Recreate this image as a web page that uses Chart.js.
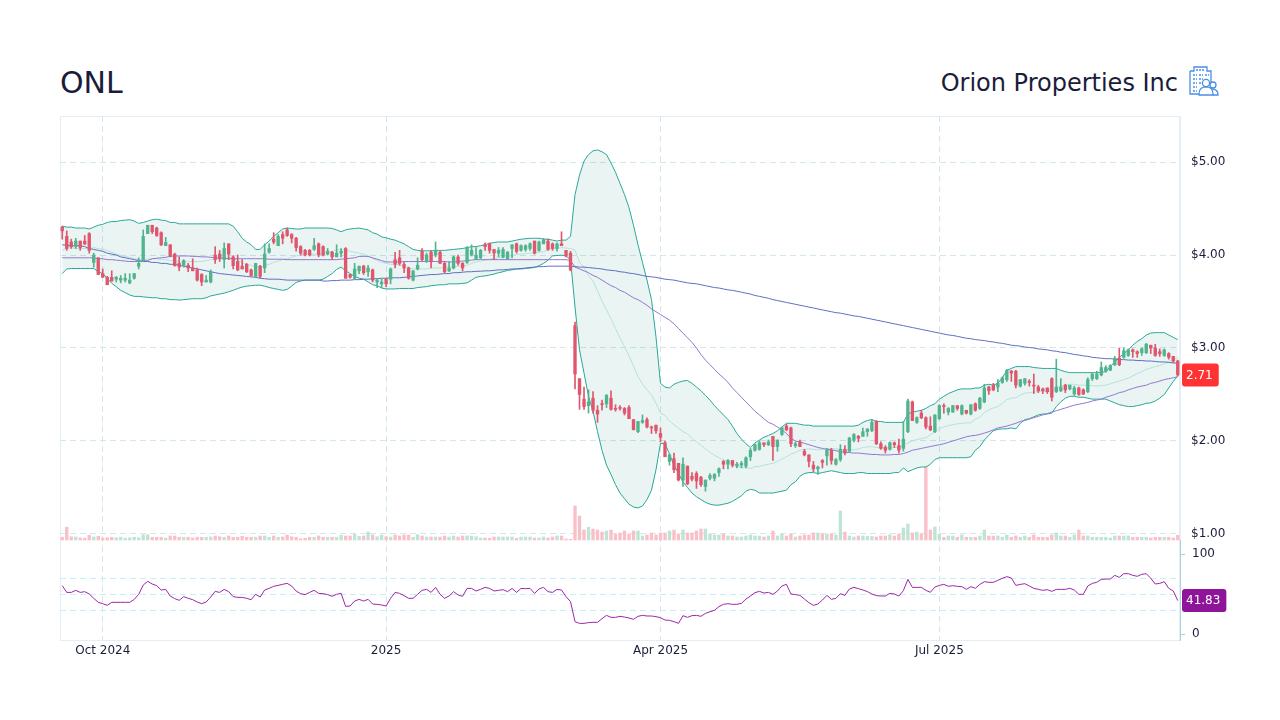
<!DOCTYPE html>
<html>
<head>
<meta charset="utf-8">
<title>ONL</title>
<script src="https://cdn.jsdelivr.net/npm/chart.js@4"></script>
<style>
  html, body { margin: 0; padding: 0; background: #fff; }
  body { width: 1280px; height: 720px; position: relative; overflow: hidden; font-family: "DejaVu Sans", sans-serif; color: #1a1d3a; }
  canvas { position: absolute; left: 0; top: 0; }
  #ticker { position: absolute; left: 60px; top: 65px; font-size: 30px; line-height: 36px; }
  #company { position: absolute; right: 102px; top: 68px; font-size: 24px; line-height: 30px; white-space: nowrap; }
  #logo { position: absolute; left: 1188px; top: 65px; }
</style>
</head>
<body>
<div id="ticker">ONL</div>
<div id="company">Orion Properties Inc</div>
<svg id="logo" width="32" height="32" viewBox="0 0 32 32" fill="none" stroke="#4a8fe6" stroke-width="1.3">
  <path d="M2 6h4V2h13v4h4v14M2 6v23h14"/>
  <path d="M5 10h4M11 10h4M17 10h4M5 14h4M11 14h4M5 18h4M11 18h4M5 22h4M5 26h4M8 5h8" stroke-dasharray="2 1"/>
  <circle cx="18" cy="18" r="3.6" fill="#fff"/>
  <path d="M11 30c0-6 2-7 5-8h4c3 1 5 2 5 8z" fill="#fff"/>
  <circle cx="25" cy="20" r="3" fill="#fff"/>
  <path d="M24 24c4 0 6 2 6 6h-5"/>
</svg>
<canvas id="chart" width="1280" height="720"></canvas>
<script>
// daily bars
const opens = [
  4.30,4.20,4.14,4.09,4.15,4.15,4.23,3.92,3.97,3.80,
  3.76,3.76,3.74,3.73,3.73,3.70,3.75,3.88,3.94,4.23,
  4.32,4.29,4.24,4.10,4.11,4.01,3.91,3.89,3.89,3.86,
  3.84,3.79,3.71,3.71,4.00,4.01,3.95,4.12,3.98,3.93,
  3.88,3.90,3.84,3.77,3.88,3.86,4.03,4.17,4.10,4.22,
  4.27,4.22,4.18,4.09,4.05,4.05,4.06,4.12,4.09,4.01,
  4.03,3.98,4.02,4.07,3.79,3.75,3.83,3.88,3.82,3.84,
  3.71,3.69,3.74,3.74,3.95,3.97,3.90,3.86,3.73,3.85,
  4.04,3.93,4.03,4.00,4.03,3.91,3.83,3.86,3.98,3.91,
  3.92,4.00,3.95,3.97,4.11,4.12,4.06,4.02,3.98,3.96,
  4.07,4.12,4.05,4.06,4.07,4.15,4.05,4.12,4.15,4.12,
  4.07,4.12,4.05,4.02,3.24,2.67,2.45,2.38,2.46,2.33,
  2.40,2.40,2.46,2.35,2.36,2.35,2.36,2.23,2.10,2.20,
  2.23,2.15,2.17,2.08,1.98,1.78,1.81,1.76,1.58,1.73,
  1.62,1.65,1.61,1.51,1.60,1.60,1.66,1.78,1.75,1.79,
  1.73,1.74,1.73,1.83,1.90,1.91,1.98,1.96,2.05,1.94,
  2.07,2.16,2.14,1.95,1.99,1.89,1.85,1.74,1.70,1.79,
  1.84,1.90,1.75,1.80,1.91,1.89,2.01,2.05,2.05,2.10,
  2.11,2.21,1.97,1.93,1.91,1.98,1.95,1.92,2.10,2.42,
  2.20,2.30,2.25,2.16,2.10,2.24,2.38,2.31,2.31,2.38,
  2.29,2.33,2.29,2.40,2.35,2.42,2.58,2.60,2.58,2.63,
  2.66,2.75,2.75,2.59,2.62,2.64,2.60,2.58,2.56,2.57,
  2.67,2.53,2.54,2.60,2.56,2.505,2.57,2.55,2.53,2.67,
  2.67,2.71,2.75,2.76,2.82,2.89,2.90,2.92,2.98,2.96,
  2.95,2.95,3.03,3.00,2.96,2.92,2.94,2.91,2.86
];
const closes = [
  4.26,4.07,4.09,4.15,4.08,4.12,4.05,4.00,3.79,3.76,
  3.68,3.72,3.76,3.75,3.75,3.73,3.80,3.91,4.20,4.32,
  4.25,4.21,4.11,4.135,3.99,3.885,3.87,3.94,3.86,3.83,
  3.73,3.71,3.73,3.82,3.95,3.96,4.07,4.01,3.885,3.84,
  3.85,3.82,3.78,3.91,3.77,4.01,4.07,4.14,4.20,4.18,
  4.21,4.18,4.08,4.02,4.00,4.00,4.10,4.00,4.00,4.04,
  3.98,4.02,4.04,3.75,3.76,3.85,3.88,3.81,3.86,3.73,
  3.73,3.71,3.69,3.85,3.90,3.91,3.86,3.75,3.83,3.89,
  3.95,4.00,3.93,4.05,3.91,3.82,3.86,3.98,3.91,3.86,
  4.08,4.05,4.00,4.05,4.09,4.05,4.02,4.05,4.06,4.03,
  4.11,4.04,4.10,4.10,4.12,4.02,4.14,4.16,4.06,4.07,
  4.12,4.10,3.99,3.84,2.72,2.50,2.37,2.42,2.33,2.29,
  2.39,2.49,2.34,2.34,2.35,2.30,2.24,2.12,2.21,2.22,
  2.15,2.14,2.11,2.04,1.83,1.85,1.69,1.58,1.75,1.54,
  1.59,1.57,1.53,1.58,1.63,1.64,1.70,1.75,1.79,1.74,
  1.75,1.76,1.82,1.90,1.96,1.98,1.96,1.99,1.94,2.01,
  2.14,2.12,1.97,1.97,1.94,1.85,1.78,1.70,1.72,1.77,
  1.90,1.79,1.80,1.91,1.87,2.03,2.07,2.03,2.10,2.13,
  2.20,1.97,1.92,1.90,1.98,1.96,1.90,2.02,2.43,2.22,
  2.25,2.25,2.15,2.12,2.28,2.38,2.37,2.35,2.38,2.35,
  2.38,2.30,2.39,2.33,2.46,2.57,2.54,2.55,2.62,2.68,
  2.76,2.73,2.60,2.66,2.67,2.63,2.59,2.54,2.54,2.53,
  2.47,2.58,2.58,2.55,2.60,2.57,2.50,2.505,2.66,2.72,
  2.72,2.79,2.79,2.81,2.89,2.82,2.97,2.98,2.96,2.94,
  2.99,3.04,3.00,2.92,2.94,2.98,2.90,2.86,2.71
];
const highs = [
  4.31,4.26,4.17,4.18,4.15,4.21,4.24,4.02,3.97,3.85,
  3.77,3.83,3.77,3.78,3.80,3.80,3.80,3.97,4.27,4.32,
  4.32,4.30,4.25,4.19,4.11,4.02,3.98,3.95,3.91,3.96,
  3.86,3.80,3.78,3.84,4.09,4.05,4.13,4.12,3.99,4.00,
  3.95,3.91,3.85,3.91,3.89,4.12,4.12,4.24,4.22,4.25,
  4.29,4.23,4.19,4.10,4.06,4.06,4.18,4.13,4.10,4.07,
  4.04,4.11,4.07,4.08,3.79,3.91,3.88,3.89,3.89,3.85,
  3.74,3.74,3.75,3.86,4.03,4.05,3.92,3.87,3.83,3.97,
  4.07,4.02,4.05,4.14,4.04,3.93,3.93,3.99,4.00,3.92,
  4.09,4.11,4.08,4.06,4.13,4.13,4.06,4.08,4.08,4.04,
  4.11,4.13,4.11,4.11,4.13,4.15,4.15,4.18,4.17,4.13,
  4.13,4.25,4.05,4.04,3.28,2.67,2.58,2.55,2.53,2.38,
  2.44,2.50,2.54,2.39,2.38,2.36,2.38,2.23,2.21,2.28,
  2.25,2.16,2.17,2.14,2.00,1.86,1.87,1.76,1.82,1.73,
  1.66,1.67,1.62,1.58,1.65,1.65,1.71,1.79,1.80,1.79,
  1.77,1.78,1.83,1.92,1.97,2.00,1.98,2.01,2.05,2.01,
  2.15,2.18,2.15,1.99,2.01,1.91,1.85,1.78,1.73,1.80,
  1.92,1.92,1.81,1.96,1.95,2.04,2.08,2.06,2.14,2.13,
  2.23,2.22,1.99,1.95,1.99,1.99,2.02,2.21,2.45,2.43,
  2.26,2.33,2.26,2.26,2.28,2.39,2.40,2.36,2.38,2.38,
  2.39,2.33,2.39,2.41,2.47,2.61,2.59,2.62,2.66,2.69,
  2.77,2.76,2.76,2.66,2.67,2.66,2.72,2.60,2.57,2.57,
  2.68,2.88,2.67,2.61,2.60,2.59,2.58,2.56,2.68,2.73,
  2.75,2.85,2.81,2.82,2.91,3.00,3.00,2.99,2.99,2.97,
  3.00,3.05,3.03,3.04,2.99,2.99,2.95,2.91,2.87
];
const lows = [
  4.17,4.05,4.07,4.07,4.05,4.11,4.02,3.87,3.79,3.76,
  3.68,3.72,3.71,3.70,3.71,3.69,3.74,3.85,3.93,4.23,
  4.23,4.20,4.10,4.10,3.98,3.88,3.83,3.87,3.82,3.83,
  3.72,3.67,3.71,3.70,3.91,3.93,3.86,3.95,3.85,3.83,
  3.85,3.81,3.77,3.76,3.75,3.81,4.02,4.12,4.10,4.12,
  4.20,4.13,4.04,4.00,3.99,3.99,4.05,3.98,3.99,4.00,
  3.95,3.98,3.98,3.75,3.75,3.74,3.80,3.79,3.77,3.71,
  3.65,3.65,3.66,3.69,3.86,3.89,3.81,3.74,3.72,3.84,
  3.94,3.92,3.86,3.98,3.91,3.81,3.82,3.85,3.89,3.83,
  3.91,3.99,3.95,3.96,4.05,4.02,3.95,3.98,3.97,3.95,
  3.97,4.02,4.04,4.04,4.05,4.01,4.04,4.12,4.05,4.05,
  4.04,4.10,3.98,3.83,2.56,2.34,2.34,2.30,2.30,2.20,
  2.33,2.36,2.33,2.32,2.33,2.28,2.24,2.12,2.09,2.19,
  2.14,2.08,2.08,1.99,1.83,1.74,1.66,1.57,1.51,1.53,
  1.57,1.49,1.51,1.46,1.58,1.57,1.62,1.70,1.70,1.72,
  1.71,1.71,1.71,1.79,1.89,1.90,1.94,1.95,1.79,1.89,
  2.06,2.11,1.94,1.93,1.94,1.84,1.72,1.67,1.64,1.71,
  1.74,1.75,1.74,1.78,1.85,1.88,1.99,1.99,2.05,2.05,
  2.10,1.96,1.91,1.87,1.90,1.93,1.87,1.89,2.09,2.22,
  2.19,2.24,2.13,2.11,2.09,2.23,2.30,2.28,2.31,2.33,
  2.28,2.29,2.28,2.32,2.34,2.41,2.50,2.54,2.53,2.62,
  2.64,2.64,2.57,2.58,2.60,2.59,2.51,2.52,2.51,2.51,
  2.43,2.52,2.53,2.52,2.55,2.49,2.49,2.50,2.52,2.65,
  2.66,2.70,2.74,2.76,2.81,2.81,2.89,2.91,2.90,2.90,
  2.92,2.94,2.94,2.91,2.91,2.91,2.88,2.84,2.70
];
// volume, thousand shares
const volumes = [
  55,255,65,60,40,35,95,60,75,40,
  45,55,45,55,35,45,55,45,105,105,
  55,55,55,40,80,80,55,55,55,40,
  55,55,55,60,80,65,55,80,55,55,
  75,55,55,55,80,80,55,80,55,60,
  100,65,55,25,35,55,55,80,55,55,
  55,55,95,80,80,115,75,80,160,100,
  65,100,65,60,100,80,100,100,55,105,
  80,60,60,60,60,80,60,80,60,80,
  80,80,65,40,40,35,60,60,60,60,
  60,35,60,60,60,40,40,60,40,60,
  80,80,20,15,680,480,200,255,220,200,
  160,180,200,120,140,180,120,180,180,80,
  100,140,100,140,140,180,200,120,200,140,
  140,180,220,220,120,100,100,120,80,80,
  60,60,80,100,80,80,60,80,180,80,
  120,80,120,60,80,100,100,140,140,120,
  120,120,100,580,160,80,60,80,80,70,
  70,60,80,80,105,80,120,240,320,140,
  160,120,1460,200,260,120,55,80,80,55,
  100,55,55,55,80,200,80,80,80,55,
  100,55,80,55,80,55,100,55,55,55,
  100,140,80,80,55,100,200,80,80,55,
  55,55,55,40,80,80,80,80,55,55,
  55,55,40,55,55,55,55,40,95
];
const bbUpper = [
  4.31,4.30,4.30,4.29,4.29,4.29,4.28,4.30,4.32,4.33,
  4.35,4.36,4.36,4.37,4.375,4.38,4.365,4.34,4.35,4.365,
  4.38,4.385,4.375,4.37,4.35,4.35,4.335,4.335,4.335,4.335,
  4.335,4.335,4.335,4.335,4.335,4.335,4.335,4.335,4.31,4.25,
  4.18,4.14,4.11,4.06,4.06,4.11,4.15,4.20,4.24,4.28,
  4.29,4.285,4.28,4.28,4.29,4.29,4.29,4.29,4.29,4.29,
  4.285,4.27,4.25,4.27,4.28,4.285,4.29,4.28,4.27,4.24,
  4.225,4.195,4.185,4.17,4.16,4.14,4.12,4.09,4.06,4.05,
  4.045,4.045,4.045,4.05,4.05,4.05,4.055,4.06,4.065,4.07,
  4.08,4.09,4.09,4.10,4.11,4.125,4.135,4.14,4.14,4.14,
  4.15,4.16,4.17,4.175,4.18,4.18,4.18,4.17,4.17,4.16,
  4.15,4.16,4.16,4.20,4.65,4.86,5.01,5.08,5.12,5.13,
  5.11,5.08,4.99,4.89,4.77,4.65,4.51,4.32,4.11,3.92,
  3.73,3.52,3.12,2.62,2.58,2.57,2.61,2.63,2.645,2.65,
  2.62,2.58,2.54,2.49,2.44,2.38,2.33,2.28,2.23,2.16,
  2.08,2.02,1.97,1.93,1.98,2.01,2.04,2.06,2.08,2.11,
  2.15,2.19,2.19,2.19,2.18,2.17,2.17,2.16,2.16,2.16,
  2.16,2.16,2.16,2.16,2.16,2.16,2.16,2.17,2.20,2.22,
  2.23,2.21,2.21,2.20,2.20,2.20,2.20,2.20,2.29,2.31,
  2.32,2.33,2.35,2.38,2.40,2.45,2.48,2.51,2.53,2.55,
  2.56,2.56,2.56,2.57,2.57,2.60,2.61,2.60,2.62,2.68,
  2.76,2.78,2.80,2.80,2.80,2.80,2.79,2.785,2.78,2.78,
  2.78,2.78,2.76,2.745,2.735,2.735,2.735,2.735,2.735,2.735,
  2.735,2.74,2.745,2.80,2.85,2.90,2.94,2.98,3.03,3.07,
  3.10,3.14,3.16,3.165,3.165,3.165,3.14,3.115,3.09
];
const bbLower = [
  3.80,3.85,3.855,3.855,3.855,3.855,3.855,3.855,3.82,3.80,
  3.75,3.695,3.66,3.62,3.595,3.57,3.555,3.555,3.55,3.545,
  3.54,3.54,3.53,3.53,3.52,3.52,3.515,3.52,3.525,3.53,
  3.53,3.53,3.54,3.56,3.57,3.58,3.59,3.605,3.62,3.64,
  3.655,3.665,3.67,3.675,3.675,3.665,3.65,3.64,3.63,3.62,
  3.63,3.665,3.705,3.72,3.73,3.73,3.73,3.73,3.74,3.77,
  3.80,3.845,3.87,3.83,3.80,3.77,3.75,3.74,3.71,3.68,
  3.67,3.645,3.635,3.635,3.635,3.64,3.64,3.64,3.64,3.65,
  3.655,3.66,3.67,3.675,3.68,3.68,3.69,3.69,3.69,3.695,
  3.70,3.73,3.76,3.77,3.775,3.785,3.795,3.81,3.82,3.835,
  3.84,3.85,3.85,3.855,3.86,3.865,3.885,3.91,3.945,3.99,
  3.995,3.998,3.99,3.95,3.44,2.98,2.73,2.48,2.32,2.10,
  1.90,1.74,1.64,1.53,1.44,1.38,1.32,1.29,1.28,1.30,
  1.37,1.47,1.69,1.975,1.97,1.86,1.74,1.65,1.56,1.50,
  1.44,1.40,1.37,1.34,1.32,1.31,1.31,1.32,1.33,1.35,
  1.38,1.41,1.46,1.48,1.47,1.44,1.44,1.44,1.44,1.45,
  1.46,1.47,1.53,1.56,1.62,1.65,1.66,1.66,1.65,1.66,
  1.67,1.68,1.67,1.66,1.65,1.65,1.65,1.66,1.66,1.65,
  1.65,1.65,1.65,1.65,1.65,1.66,1.66,1.71,1.67,1.69,
  1.71,1.72,1.72,1.75,1.80,1.82,1.82,1.82,1.82,1.82,
  1.82,1.82,1.83,1.90,1.94,2.01,2.06,2.11,2.125,2.13,
  2.13,2.14,2.13,2.19,2.23,2.24,2.26,2.28,2.29,2.29,
  2.30,2.37,2.42,2.46,2.48,2.48,2.47,2.47,2.46,2.45,
  2.45,2.45,2.45,2.43,2.41,2.39,2.38,2.37,2.37,2.38,
  2.39,2.405,2.41,2.43,2.46,2.50,2.57,2.64,2.70
];
const bbMiddle = [
  4.05,4.075,4.08,4.07,4.07,4.07,4.07,4.08,4.07,4.06,
  4.05,4.03,4.01,3.995,3.985,3.975,3.96,3.95,3.95,3.955,
  3.96,3.96,3.95,3.95,3.94,3.935,3.925,3.92,3.93,3.93,
  3.93,3.93,3.94,3.95,3.95,3.96,3.96,3.97,3.965,3.945,
  3.92,3.90,3.89,3.87,3.87,3.89,3.90,3.92,3.935,3.95,
  3.96,3.975,3.99,4.00,4.01,4.01,4.01,4.01,4.015,4.03,
  4.04,4.055,4.06,4.05,4.04,4.03,4.02,4.01,3.99,3.96,
  3.945,3.92,3.91,3.90,3.90,3.89,3.88,3.865,3.85,3.85,
  3.85,3.85,3.86,3.86,3.86,3.87,3.87,3.87,3.88,3.88,
  3.89,3.91,3.925,3.935,3.945,3.955,3.965,3.97,3.975,3.985,
  3.995,4.005,4.01,4.015,4.02,4.02,4.03,4.035,4.06,4.075,
  4.07,4.08,4.075,4.07,4.05,3.92,3.87,3.78,3.72,3.615,
  3.505,3.41,3.315,3.21,3.105,3.015,2.915,2.805,2.695,2.61,
  2.55,2.495,2.405,2.30,2.275,2.215,2.175,2.14,2.10,2.075,
  2.03,1.99,1.955,1.915,1.88,1.845,1.82,1.80,1.78,1.755,
  1.73,1.715,1.715,1.705,1.725,1.725,1.74,1.75,1.76,1.78,
  1.805,1.83,1.86,1.875,1.90,1.91,1.915,1.91,1.905,1.91,
  1.915,1.92,1.915,1.91,1.905,1.905,1.905,1.915,1.93,1.935,
  1.94,1.93,1.93,1.925,1.925,1.93,1.93,1.955,1.98,2.00,
  2.015,2.025,2.035,2.065,2.10,2.135,2.15,2.165,2.175,2.185,
  2.19,2.195,2.195,2.235,2.255,2.305,2.335,2.355,2.37,2.405,
  2.445,2.46,2.465,2.495,2.515,2.52,2.525,2.535,2.535,2.535,
  2.54,2.575,2.59,2.60,2.61,2.61,2.60,2.60,2.60,2.595,
  2.59,2.595,2.60,2.615,2.63,2.645,2.66,2.675,2.70,2.725,
  2.745,2.77,2.785,2.80,2.81,2.83,2.855,2.88,2.895
];
const ma50 = [
  3.97,3.97,3.97,3.97,3.97,3.97,3.97,3.97,3.96,3.96,
  3.95,3.95,3.945,3.94,3.935,3.93,3.93,3.93,3.935,3.94,
  3.96,3.965,3.97,3.975,3.985,3.99,3.99,3.99,3.99,3.985,
  3.985,3.98,3.98,3.975,3.97,3.97,3.965,3.96,3.96,3.96,
  3.96,3.96,3.96,3.96,3.96,3.96,3.955,3.955,3.955,3.955,
  3.95,3.95,3.95,3.95,3.95,3.95,3.95,3.95,3.95,3.95,
  3.95,3.95,3.955,3.96,3.965,3.97,3.985,3.985,3.985,3.97,
  3.955,3.94,3.925,3.925,3.925,3.925,3.93,3.93,3.93,3.93,
  3.93,3.93,3.93,3.93,3.93,3.93,3.925,3.925,3.93,3.935,
  3.94,3.945,3.95,3.95,3.95,3.95,3.95,3.95,3.95,3.95,
  3.95,3.95,3.95,3.95,3.95,3.95,3.95,3.95,3.95,3.95,
  3.95,3.95,3.95,3.94,3.87,3.85,3.83,3.81,3.78,3.76,
  3.73,3.70,3.67,3.65,3.62,3.60,3.57,3.54,3.52,3.49,
  3.46,3.42,3.39,3.36,3.33,3.30,3.26,3.21,3.16,3.11,
  3.06,3.00,2.93,2.87,2.82,2.77,2.72,2.68,2.63,2.57,
  2.52,2.47,2.42,2.37,2.32,2.28,2.24,2.20,2.18,2.15,
  2.12,2.08,2.03,2.00,1.99,1.975,1.96,1.945,1.93,1.92,
  1.91,1.905,1.895,1.885,1.88,1.875,1.87,1.87,1.865,1.86,
  1.855,1.855,1.85,1.85,1.85,1.855,1.855,1.865,1.88,1.90,
  1.91,1.92,1.93,1.94,1.95,1.96,1.97,1.985,2.00,2.015,
  2.03,2.045,2.055,2.06,2.07,2.085,2.10,2.12,2.14,2.15,
  2.16,2.175,2.19,2.21,2.22,2.235,2.25,2.265,2.28,2.295,
  2.31,2.325,2.34,2.355,2.37,2.385,2.395,2.405,2.415,2.43,
  2.44,2.45,2.47,2.485,2.50,2.52,2.53,2.55,2.565,2.58,
  2.59,2.60,2.62,2.63,2.645,2.66,2.67,2.68,2.69
];
const ma200 = [
  4.11,4.105,4.10,4.10,4.10,4.09,4.07,4.06,4.05,4.04,
  4.02,4.01,4.00,3.98,3.97,3.96,3.95,3.94,3.93,3.93,
  3.92,3.92,3.91,3.91,3.90,3.90,3.89,3.88,3.87,3.86,
  3.85,3.84,3.83,3.82,3.81,3.80,3.795,3.79,3.785,3.78,
  3.775,3.77,3.765,3.76,3.75,3.745,3.74,3.74,3.74,3.735,
  3.73,3.73,3.73,3.73,3.73,3.73,3.73,3.73,3.72,3.72,
  3.725,3.725,3.73,3.73,3.73,3.735,3.735,3.74,3.74,3.745,
  3.745,3.75,3.75,3.755,3.755,3.755,3.76,3.765,3.77,3.775,
  3.78,3.785,3.79,3.79,3.795,3.80,3.80,3.81,3.81,3.815,
  3.82,3.82,3.825,3.825,3.83,3.83,3.835,3.84,3.84,3.845,
  3.85,3.85,3.855,3.86,3.865,3.87,3.875,3.875,3.88,3.88,
  3.88,3.88,3.88,3.88,3.875,3.87,3.87,3.865,3.86,3.855,
  3.85,3.84,3.835,3.83,3.82,3.815,3.805,3.80,3.79,3.78,
  3.77,3.765,3.76,3.75,3.74,3.735,3.73,3.72,3.71,3.70,
  3.695,3.69,3.68,3.67,3.66,3.65,3.645,3.635,3.625,3.62,
  3.61,3.60,3.59,3.58,3.565,3.555,3.545,3.535,3.52,3.51,
  3.50,3.49,3.48,3.47,3.46,3.45,3.44,3.43,3.42,3.41,
  3.40,3.39,3.38,3.375,3.365,3.355,3.345,3.34,3.33,3.32,
  3.31,3.30,3.29,3.28,3.27,3.26,3.25,3.24,3.23,3.22,
  3.21,3.20,3.19,3.18,3.17,3.16,3.15,3.14,3.135,3.125,
  3.115,3.105,3.10,3.09,3.085,3.08,3.07,3.065,3.055,3.05,
  3.04,3.03,3.025,3.02,3.01,3.005,3.00,2.99,2.985,2.98,
  2.97,2.965,2.955,2.95,2.94,2.93,2.925,2.915,2.91,2.90,
  2.895,2.89,2.885,2.885,2.88,2.875,2.875,2.87,2.87,2.865,
  2.865,2.86,2.86,2.855,2.85,2.85,2.845,2.84,2.835
];
const rsi = [
  60.4,52,52,54.6,52,52.9,50,44.6,39.6,37.9,
  35.8,39.6,39.6,39.6,39.6,39.6,43.3,49.6,61.2,65.8,
  62.5,60.4,55,55.8,47.5,44.2,42.1,46.7,44.6,42.9,
  40,37.9,40,46.2,53.3,52,55.8,52.9,46.7,45.8,
  45.8,44.6,42.9,49.6,46.2,55,57.1,59.6,60.8,62.1,
  63.3,60,53.7,50.4,49.2,52,54.6,50.8,50.4,49.2,
  47.1,49.6,50.8,34.6,35,41.2,43.3,41.2,43.3,37.5,
  37,36.3,35,44.6,52,50.8,47.9,44.6,44.6,49.6,
  54.6,55.8,52,58.3,49.6,44.6,47.5,52.9,48.8,47.1,
  57,57,53.8,55.8,58.3,57,53.8,54.6,55.4,52.9,
  57,52,57,56.7,57,50.8,56.3,58.3,52.9,52,
  55.8,55,46.7,40.4,15.4,13.3,13.3,14.2,14.6,14.6,
  19.2,23.3,20.8,20.8,22.1,21.2,20,18.3,22.1,23.3,
  22.5,22.5,21.7,20.4,17.5,17.1,15.4,13.3,22.9,20.8,
  22.9,23.3,22.1,25.8,27.9,29.6,34.2,37.1,37.9,37.1,
  37.1,38.3,43.7,47.5,51.7,53.3,51.2,52,49.6,53.7,
  60,62.1,50,49.2,48.3,43.7,39.2,35.8,37.5,42.5,
  48.3,43.3,44.6,50.4,48.3,56.2,58.3,56.7,55,53,
  50,48,47.5,47.5,50.8,50,47.5,54.2,68.3,58.3,
  58.3,58.3,54.6,52.1,58.7,60.8,62,59.6,60.4,59.6,
  59.2,55.8,59.2,57.1,62,65.4,64.6,64.6,67.1,69.6,
  71.7,70,60.8,62,62.9,60,57.1,55.8,54.6,55.4,
  53.3,55.8,55.8,55.8,57.1,55,49.6,49.6,60,63.3,
  64.6,68.3,68.7,68.7,73.3,70.8,75.4,75.4,73.3,72.1,
  74.6,75.4,69.6,62.5,63.3,65.4,57.1,53.7,41.83
];
const sessions = closes.map((_, i) => i);
const monthTicks = [9, 72, 133, 195];
const monthLabels = ["Oct 2024", "2025", "Apr 2025", "Jul 2025"];
const priceTicks = [1, 2, 3, 4, 5];
const rsiTicks = [0, 30, 50, 70, 100];

const upColor = "#52b48e";
const downColor = "#e0566d";
const gridColor = "#d3e8ec";
const frameColor = "#e3edf5";
const textColor = "#1a1d3a";
const isUp = (i) => closes[i] >= opens[i];

// box around the plot and the two last value tags on the axes
const framePlugin = {
  id: "frame",
  beforeDraw(chart) {
    const { ctx, chartArea: a } = chart;
    ctx.save();
    ctx.strokeStyle = frameColor;
    ctx.lineWidth = 1;
    ctx.strokeRect(a.left + 0.5, a.top + 0.5, a.width - 1, a.height);
    ctx.restore();
  },
  afterDraw(chart) {
    const drawTag = (scale, value, text, color) => {
      const { ctx } = chart;
      const y = scale.getPixelForValue(value);
      ctx.save();
      ctx.font = "12px 'DejaVu Sans'";
      const w = ctx.measureText(text).width + 10;
      ctx.fillStyle = color;
      ctx.beginPath();
      ctx.roundRect(1182, y - 11.5, w, 23, 3);
      ctx.fill();
      ctx.fillStyle = "#fff";
      ctx.textBaseline = "middle";
      ctx.fillText(text, 1186, y + 0.5);
      ctx.restore();
    };
    const last = closes.length - 1;
    drawTag(chart.scales.y, closes[last], closes[last].toFixed(2), "#ff3333");
    drawTag(chart.scales.yRsi, rsi[last], rsi[last].toFixed(2), "#8e1599");
  }
};

const lineSet = (label, data, color, order, extra) => Object.assign({
  type: "line", label, data, borderColor: color, borderWidth: 1,
  pointRadius: 0, tension: 0, yAxisID: "y", order
}, extra);

new Chart(document.getElementById("chart"), {
  type: "bar",
  data: {
    labels: sessions,
    datasets: [
      {
        label: "Volume", data: volumes, yAxisID: "yVol", order: 9, grouped: false,
        barThickness: 2.7, borderWidth: 0,
        backgroundColor: sessions.map((i) => isUp(i) ? "#bfe3d4" : "#f9c0c8")
      },
      lineSet("BB upper", bbUpper, "#2aa898", 6, { fill: "+1", backgroundColor: "rgba(38,150,140,0.1)" }),
      lineSet("BB lower", bbLower, "#2aa898", 6),
      lineSet("BB middle", bbMiddle, "#b5e2da", 5),
      lineSet("MA 50", ma50, "#9278cf", 4),
      lineSet("MA 200", ma200, "#5f6fbf", 3),
      {
        label: "Wick", data: sessions.map((i) => [lows[i], highs[i]]), yAxisID: "y", order: 2,
        grouped: false, barThickness: 1, borderWidth: 0,
        backgroundColor: sessions.map((i) => isUp(i) ? upColor : downColor)
      },
      {
        label: "Body", data: sessions.map((i) => [opens[i], closes[i]]), yAxisID: "y", order: 1,
        grouped: false, barThickness: 2.7, borderWidth: 0, minBarLength: 1,
        backgroundColor: sessions.map((i) => isUp(i) ? upColor : downColor)
      },
      lineSet("RSI", rsi, "#9c27a8", 1, { yAxisID: "yRsi" })
    ]
  },
  options: {
    responsive: false,
    animation: false,
    events: [],
    layout: { padding: { left: 60, top: 116, right: 0, bottom: 0 } },
    plugins: { legend: { display: false }, tooltip: { enabled: false } },
    scales: {
      x: {
        offset: true,
        afterFit: (s) => { s.height = 80; },
        afterBuildTicks: (s) => { s.ticks = monthTicks.map((value) => ({ value })); },
        border: { color: frameColor, dash: [6, 4] },
        grid: { color: gridColor, offset: false, drawTicks: false },
        ticks: {
          autoSkip: false, maxRotation: 0, padding: 4, color: textColor,
          font: { family: "DejaVu Sans", size: 12 },
          callback: (v) => monthLabels[monthTicks.indexOf(v)]
        }
      },
      y: {
        position: "right", stack: "panes", stackWeight: 424, weight: 1,
        min: 0.935, max: 5.495,
        afterFit: (s) => { s.width = 100; },
        afterBuildTicks: (s) => { s.ticks = priceTicks.map((value) => ({ value })); },
        border: { color: frameColor, dash: [6, 4] },
        grid: { color: gridColor, drawTicks: false },
        ticks: {
          autoSkip: false, padding: 11, color: textColor,
          font: { family: "DejaVu Sans", size: 12 },
          callback: (v) => "$" + v.toFixed(2)
        }
      },
      yRsi: {
        position: "right", stack: "panes", stackWeight: 100, weight: 2,
        min: -7.5, max: 117.5,
        afterFit: (s) => { s.width = 100; },
        afterBuildTicks: (s) => { s.ticks = rsiTicks.map((value) => ({ value })); },
        border: { color: "#b0d0e2", dash: [6, 4] },
        grid: {
          color: (c) => (c.tick.value % 100 === 0 ? "transparent" : "#c6eefb"),
          tickColor: (c) => (c.tick.value % 100 === 0 ? "#b0d0e2" : "transparent"),
          tickLength: 5
        },
        ticks: {
          autoSkip: false, padding: 7, color: textColor,
          font: { family: "DejaVu Sans", size: 12 },
          callback: (v) => (v % 100 === 0 ? String(v) : "")
        }
      },
      yVol: { display: false, min: -2000, max: 8480 }
    }
  },
  plugins: [framePlugin]
});
</script>
</body>
</html>
